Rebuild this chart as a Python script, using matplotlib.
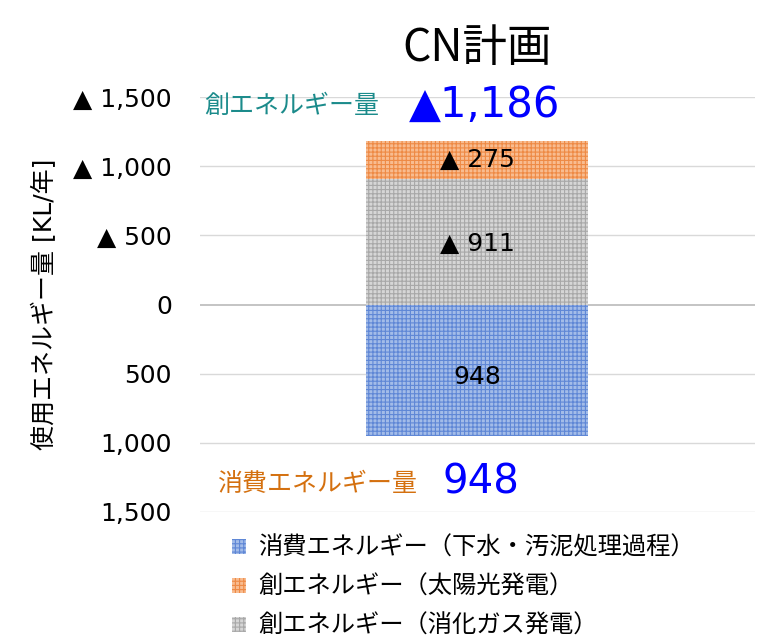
import matplotlib
matplotlib.use("Agg")
import matplotlib.pyplot as plt
from matplotlib.patches import Patch

plt.rcParams['font.family'] = ['DejaVu Sans', 'Noto Sans CJK JP']
plt.rcParams['hatch.linewidth'] = 0.8

category = ["CN計画"]
consumption = [948]      # 消費エネルギー（下水・汚泥処理過程）
solar = [275]            # 創エネルギー（太陽光発電）
digestion_gas = [911]    # 創エネルギー（消化ガス発電）
tick_values = [1500, 1000, 500, 0, -500, -1000, -1500]
tick_labels = ["▲ 1,500", "▲ 1,000", "▲ 500", "0", "500", "1,000", "1,500"]
labels = ["消費エネルギー（下水・汚泥処理過程）", "創エネルギー（太陽光発電）", "創エネルギー（消化ガス発電）"]

fig = plt.figure(figsize=(7.6, 6.44), dpi=100)
ax = fig.add_axes([0.263, 0.205, 0.73, 0.644])

x = [0]
w = 0.4
styles = {
    'cons': dict(facecolor='#a3bce8', edgecolor='#5f87d6', hatch='++++'),
    'solar': dict(facecolor='#f8bc90', edgecolor='#ee8a45', hatch='++++'),
    'gas': dict(facecolor='#d6d6d6', edgecolor='#a8a8a8', hatch='++++'),
}
ax.bar(x, [-v for v in consumption], width=w, linewidth=0, **styles['cons'])
ax.bar(x, digestion_gas, width=w, linewidth=0, **styles['gas'])
ax.bar(x, solar, width=w, bottom=digestion_gas, linewidth=0, **styles['solar'])

ax.set_xlim(-0.5, 0.5)
ax.set_ylim(-1500, 1500)
ax.set_yticks(tick_values)
ax.set_yticklabels(tick_labels, fontsize=18)
ax.set_xticks([])
ax.tick_params(axis='y', length=0, pad=20)
for s in ax.spines.values():
    s.set_visible(False)
for t in tick_values:
    ax.axhline(t, color='#bfbfbf' if t == 0 else '#d9d9d9', lw=1.3 if t == 0 else 1.0, zorder=0)

ax.set_ylabel("使用エネルギー量 [KL/年]", fontsize=18, labelpad=12)
ax.set_title(category[0], fontsize=32, pad=26, family=['Noto Sans CJK JP'])

# segment labels
ax.text(0, digestion_gas[0] + solar[0] / 2, f"▲ {solar[0]:,}", ha='center', va='center', fontsize=18)
ax.text(0, digestion_gas[0] / 2 - 20, f"▲ {digestion_gas[0]:,}", ha='center', va='center', fontsize=18)
ax.text(0, -consumption[0] / 2 - 50, f"{consumption[0]:,}", ha='center', va='center', fontsize=18)

total_create = solar[0] + digestion_gas[0]
ax.text(-0.334, 1440, "創エネルギー量", ha='center', va='center', fontsize=18, color='#1b8b8b')
ax.text(0.013, 1445, f"▲{total_create:,}", ha='center', va='center', fontsize=30, color='#0000ff')
ax.text(-0.289, -1300, "消費エネルギー量", ha='center', va='center', fontsize=18, color='#d4700f')
ax.text(0.006, -1285, f"{consumption[0]:,}", ha='center', va='center', fontsize=29, color='#0000ff')

handles = [Patch(linewidth=0, **styles['cons']), Patch(linewidth=0, **styles['solar']), Patch(linewidth=0, **styles['gas'])]
fig.legend(handles, labels, loc='upper left', bbox_to_anchor=(0.305, 0.168), frameon=False,
           fontsize=17.5, handlelength=0.6, handleheight=0.6, handletextpad=0.5, labelspacing=0.62,
           borderaxespad=0, borderpad=0)

fig.savefig("out.png", dpi=100)
